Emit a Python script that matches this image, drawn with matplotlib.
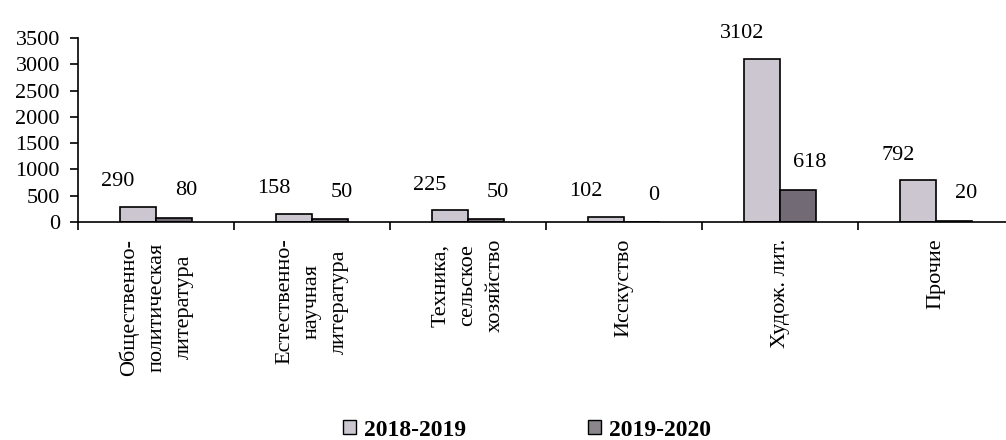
import numpy as np
import matplotlib.pyplot as plt
from matplotlib.patches import Patch

# Данные
kategorii = ["Общественно-\nполитическая\nлитература",
             "Естественно-\nнаучная\nлитература",
             "Техника,\nсельское\nхозяйство",
             "Исскуство",
             "Худож. лит.",
             "Прочие"]
god_2018_2019 = [290, 158, 225, 102, 3102, 792]
god_2019_2020 = [80, 50, 50, 0, 618, 20]
serii = ["2018-2019", "2019-2020"]

plt.rcParams['font.family'] = ['Liberation Serif', 'DejaVu Serif']

fig = plt.figure(figsize=(10.06, 4.4), dpi=100)
ax = fig.add_axes([78/1006, 218/440, 936/1006, 184/440])

x = np.arange(len(kategorii))
w = 0.23
cor1 = '#cbc6cf'
cor2 = '#726a74'
ax.bar(x - w/2, god_2018_2019, w, color=cor1, edgecolor='black', linewidth=1.2)
ax.bar(x + w/2, god_2019_2020, w, color=cor2, edgecolor='black', linewidth=1.2)

# подписи значений
for xi, v in zip(x, god_2018_2019):
    ax.annotate(str(v), (xi - w/2, v), xytext=(-20, 25), textcoords='offset pixels',
                ha='center', va='center', fontsize=16)
for xi, v in zip(x, god_2019_2020):
    ax.annotate(str(v), (xi + w/2, v), xytext=(12, 27), textcoords='offset pixels',
                ha='center', va='center', fontsize=16)

ax.set_xlim(-0.5, 5.5)
ax.set_ylim(0, 3500)
ax.set_yticks(np.arange(0, 3501, 500))
ax.tick_params(axis='y', labelsize=16, length=6, width=1.2, direction='out', pad=7)

# деления на границах категорий, подписи по центру
ax.set_xticks(np.arange(-0.5, 5.6, 1.0))
ax.set_xticklabels([])
ax.tick_params(axis='x', which='major', length=6, width=1.2, direction='out')
ax.set_xticks(x, minor=True)
ax.set_xticklabels(kategorii, minor=True, rotation=90, ha='center', va='top',
                   multialignment='center', fontsize=16, linespacing=1.6)
ax.tick_params(axis='x', which='minor', length=0, pad=12)

ax.spines['top'].set_visible(False)
ax.spines['right'].set_visible(False)
ax.spines['left'].set_linewidth(1.2)
ax.spines['bottom'].set_linewidth(1.2)

ruchki = [Patch(facecolor=cor1, edgecolor='black', linewidth=1),
          Patch(facecolor='#8a868c', edgecolor='black', linewidth=1)]
fig.legend(ruchki, serii, loc='center', bbox_to_anchor=(527/1006, 10/440), ncol=2,
           frameon=False, prop={'weight': 'bold', 'size': 17}, columnspacing=5.2,
           handlelength=0.55, handleheight=0.55, handletextpad=0.3)

plt.savefig('out.png', dpi=100)
